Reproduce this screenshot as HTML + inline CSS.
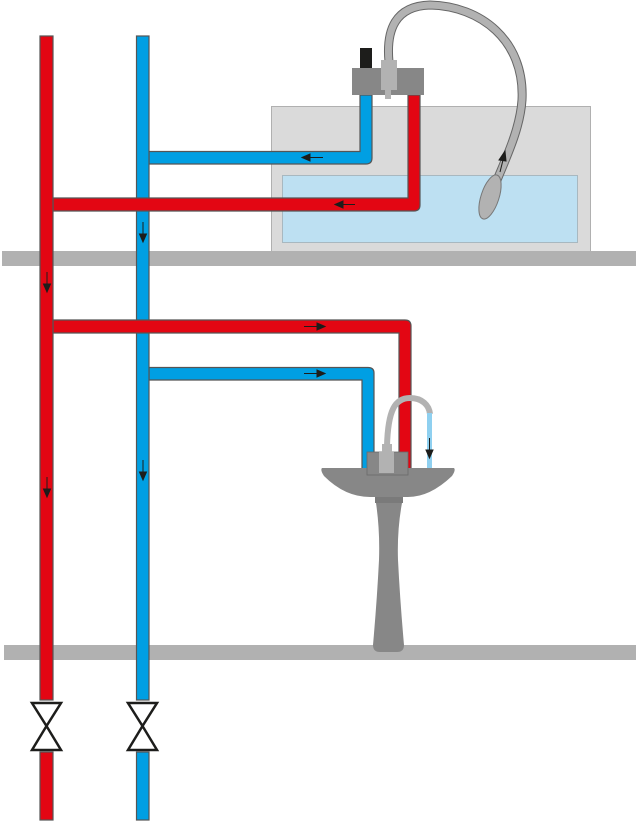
<!DOCTYPE html>
<html><head><meta charset="utf-8"><style>html,body{margin:0;padding:0;background:#fff}svg{display:block}</style></head>
<body>
<svg width="636" height="825" viewBox="0 0 636 825" xmlns="http://www.w3.org/2000/svg">
<!-- tank -->
<rect x="271.5" y="106.5" width="319" height="145" fill="#dadada" stroke="#b0b0b0"/>
<rect x="282.5" y="175.5" width="295" height="67" fill="#bde0f2" stroke="#a8b8c0"/>
<!-- shelves -->
<rect x="2" y="251" width="634" height="15" fill="#b1b1b1"/>
<rect x="4" y="645" width="632" height="15" fill="#b1b1b1"/>

<g stroke="#555" stroke-width="1.2">
<!-- blue top branch -->
<path d="M149 151.5 H360 V95 H372 V158 Q372 164 366 164 H149 Z" fill="#009fe3"/>
<!-- blue second branch -->
<path d="M149 367.5 H368 Q374 367.5 374 373 V475 H362 V380 H149 Z" fill="#009fe3"/>
<!-- blue vertical -->
<rect x="136.5" y="36" width="12.5" height="664" fill="#009fe3"/>
<rect x="136.5" y="752" width="12.5" height="68" fill="#009fe3"/>
<!-- red top branch -->
<path d="M53 198 H408 V95 H420 V205 Q420 211 414 211 H53 Z" fill="#e30613"/>
<!-- red second branch -->
<path d="M53 320 H405 Q411 320 411 326 V476 H399 V333 H53 Z" fill="#e30613"/>
<!-- red vertical -->
<rect x="40" y="36" width="13" height="664" fill="#e30613"/>
<rect x="40" y="752" width="13" height="68" fill="#e30613"/>
</g>

<!-- valves -->
<g fill="#fff" stroke="#1d1d1b" stroke-width="2.5" stroke-linejoin="miter">
<path d="M32 703 H61 L46.5 726 Z M32 750 H61 L46.5 726 Z"/>
<path d="M128 703 H157 L142.5 726 Z M128 750 H157 L142.5 726 Z"/>
</g>

<!-- top mixer + hose -->
<path d="M389 62 C386 30 395 6 430 5 C480 6 525 40 522 100 C520 130 505 160 495 185" fill="none" stroke="#666" stroke-width="9" stroke-linecap="round"/>
<path d="M389 62 C386 30 395 6 430 5 C480 6 525 40 522 100 C520 130 505 160 495 185" fill="none" stroke="#b2b2b2" stroke-width="7" stroke-linecap="round"/>
<ellipse cx="490" cy="197" rx="9" ry="23" transform="rotate(18 490 197)" fill="#b2b2b2" stroke="#777" stroke-width="1"/>
<rect x="360" y="48" width="12" height="20" fill="#1d1d1b"/>
<rect x="352" y="68" width="72" height="27" fill="#878787"/>
<rect x="381" y="60" width="16" height="30" fill="#b2b2b2"/>
<rect x="385" y="90" width="6" height="9" fill="#b2b2b2"/>

<!-- basin -->
<path d="M322 468 H454 Q456 470 452 476 Q430 497 408 497 H370 Q345 497 324 476 Q320 470 322 468 Z" fill="#878787"/>
<rect x="375" y="497" width="28" height="6" fill="#7a7a7a"/>
<path d="M376 503 H402 Q397 530 398 560 Q400 600 404 645 Q404 652 397 652 H380 Q373 652 373 645 Q377 600 379 560 Q380 530 376 503 Z" fill="#878787"/>
<!-- sink faucet -->
<path d="M387 446 C388 410 395 398 410 398 C422 398 429 405 430 414" fill="none" stroke="#b2b2b2" stroke-width="6"/>
<rect x="427" y="413" width="5" height="55" fill="#8fd0f0"/>
<rect x="367" y="452" width="41" height="23" fill="#878787" stroke="#6a6a6a" stroke-width="0.8"/>
<rect x="379" y="452" width="15" height="21" fill="#b2b2b2"/>
<rect x="382" y="444" width="10" height="8" fill="#b2b2b2"/>

<!-- arrows -->
<g stroke="#1d1d1b" stroke-width="1" fill="#1d1d1b">
<path d="M323 157.5 H308" fill="none"/><path d="M302 157.5 L310 154 L310 161 Z"/>
<path d="M355 204.5 H340" fill="none"/><path d="M335 204.5 L343 201 L343 208 Z"/>
<path d="M304 326.5 H318" fill="none"/><path d="M325 326.5 L317 323 L317 330 Z"/>
<path d="M304 373.5 H318" fill="none"/><path d="M325 373.5 L317 370 L317 377 Z"/>
<path d="M143 222 V236" fill="none"/><path d="M143 242 L139.5 234 L146.5 234 Z"/>
<path d="M143 460 V474" fill="none"/><path d="M143 480 L139.5 472 L146.5 472 Z"/>
<path d="M47 272 V286" fill="none"/><path d="M47 292 L43.5 284 L50.5 284 Z"/>
<path d="M47 477 V491" fill="none"/><path d="M47 497 L43.5 489 L50.5 489 Z"/>
<path d="M429.5 438 V452" fill="none"/><path d="M429.5 458 L426 450 L433 450 Z"/>
<path d="M500 172 L503 160" fill="none"/><path d="M505 151 L499 160 L506 161 Z"/>
</g>
</svg>
</body></html>
